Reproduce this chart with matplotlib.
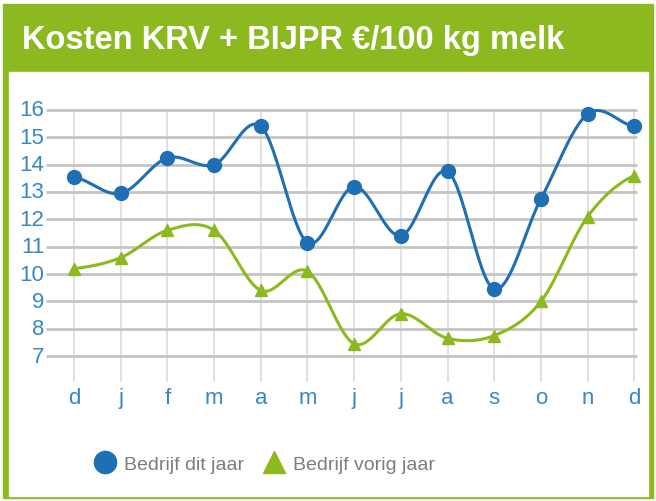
import numpy as np
import matplotlib
matplotlib.use("Agg")
import matplotlib.pyplot as plt
from matplotlib.patches import Rectangle
from matplotlib.lines import Line2D

# maanden (dec vorig jaar t/m dec)
maanden = ["d", "j", "f", "m", "a", "m", "j", "j", "a", "s", "o", "n", "d"]
dit_jaar = [13.55, 12.95, 14.25, 14.0, 15.4, 11.15, 13.2, 11.4, 13.75, 9.45, 12.75, 15.85, 15.4]
vorig_jaar = [10.2, 10.6, 11.6, 11.6, 9.4, 10.1, 7.45, 8.55, 7.65, 7.75, 9.0, 12.1, 13.6]
y_ticks = [7, 8, 9, 10, 11, 12, 13, 14, 15, 16]

BLAUW = "#1f6fb5"
GROEN = "#8cb91f"
LABEL = "#3a87c6"
GRIJS = "#c4c4c4"

FONT = ["Liberation Sans Narrow", "Liberation Sans", "DejaVu Sans"]
plt.rcParams["font.family"] = FONT

W, H = 656, 502


def catmull_rom(xs, ys, n=30):
    # vloeiende lijn door de punten, zoals de bron-grafiek doet
    x = np.asarray(xs, float)
    y = np.asarray(ys, float)
    xp = np.concatenate([[2 * x[0] - x[1]], x, [2 * x[-1] - x[-2]]])
    yp = np.concatenate([[y[0]], y, [y[-1]]])
    ox, oy = [], []
    t = np.linspace(0, 1, n, endpoint=False)
    for i in range(1, len(xp) - 2):
        for arr, out in ((xp, ox), (yp, oy)):
            p0, p1, p2, p3 = arr[i - 1], arr[i], arr[i + 1], arr[i + 2]
            out.extend(0.5 * (2 * p1 + (-p0 + p2) * t
                              + (2 * p0 - 5 * p1 + 4 * p2 - p3) * t ** 2
                              + (-p0 + 3 * p1 - 3 * p2 + p3) * t ** 3))
    ox.append(x[-1])
    oy.append(y[-1])
    return np.array(ox), np.array(oy)


def px(x0, y0, x1, y1):
    # pixelvak (boven = 0) -> figuurfracties
    return [x0 / W, 1 - y1 / H, (x1 - x0) / W, (y1 - y0) / H]


fig = plt.figure(figsize=(W / 100, H / 100), dpi=100)
fig.patch.set_facecolor("white")

# groen kader met titelbalk
fig.patches.append(Rectangle((3 / W, 1 - 499 / H), 650 / W, 494 / H,
                             transform=fig.transFigure, color=GROEN, zorder=-2))
fig.patches.append(Rectangle((9 / W, 1 - 497 / H), 639 / W, 424 / H,
                             transform=fig.transFigure, color="white", zorder=-1))
fig.text(22 / W, 1 - 40 / H, "Kosten KRV + BIJPR €/100 kg melk", color="white",
         fontsize=23.5, fontweight="bold", va="center", ha="left")

ax = fig.add_axes(px(46, 100, 646, 420))
ax.set_zorder(2)
ax.set_xlim(-0.6, 12.25)
ax.set_ylim(4.7, 16.4)
ax.axis("off")

xs = np.arange(len(maanden))
for v in y_ticks:
    ax.hlines(v, -0.6, 12.05, color=GRIJS, lw=2.0, zorder=1)
    ax.text(-0.63, v, str(v), color=LABEL, fontsize=16, ha="right", va="center")
ax.vlines(xs, 6.05, 16, color="#dcdcdc", lw=1.2, zorder=0.5)
for x, m in zip(xs, maanden):
    ax.text(x, 5.5, m, color=LABEL, fontsize=16, ha="center", va="center")

sx, sy = catmull_rom(xs, vorig_jaar)
ax.plot(sx, sy, color=GROEN, lw=2.2, zorder=2)
ax.plot(xs, vorig_jaar, "^", color=GROEN, ms=9, zorder=3)
sx, sy = catmull_rom(xs, dit_jaar)
ax.plot(sx, sy, color=BLAUW, lw=2.2, zorder=2)
ax.plot(xs, dit_jaar, "o", color=BLAUW, ms=10, zorder=3)

handles = [Line2D([], [], ls="none", marker="o", color=BLAUW, ms=16),
           Line2D([], [], ls="none", marker="^", color=GROEN, ms=16)]
leg = fig.legend(handles, ["Bedrijf dit jaar", "Bedrijf vorig jaar"], ncol=2,
                 loc="center", bbox_to_anchor=(265 / W, 1 - 465 / H), frameon=False,
                 handlelength=1.0, handletextpad=0.5, columnspacing=1.0,
                 fontsize=14)
for t in leg.get_texts():
    t.set_color("#7d7d7d")

fig.savefig("out.png", dpi=100)
